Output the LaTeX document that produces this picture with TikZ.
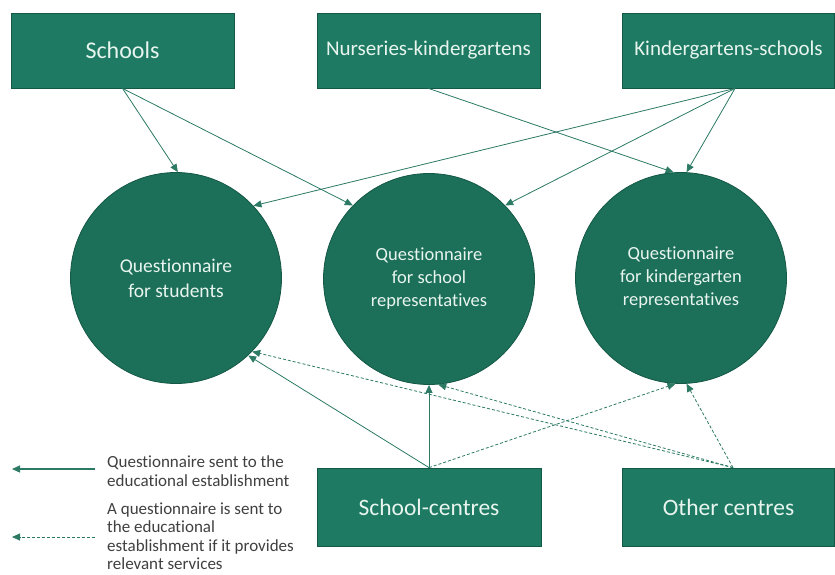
\documentclass[tikz,border=0pt]{standalone}
\usepackage{fontspec}
\setmainfont[Ligatures=CommonOff]{Carlito}
\usetikzlibrary{arrows.meta,calc}
\definecolor{boxfill}{HTML}{1E7A62}
\definecolor{boxline}{HTML}{145846}
\definecolor{circfill}{HTML}{1C6F58}
\definecolor{linecol}{HTML}{2C7A64}
\definecolor{lighttext}{HTML}{E8F5EF}
\definecolor{legtext}{HTML}{404040}
\begin{document}
\begin{tikzpicture}[x=1pt,y=-1pt,
  box/.style={rectangle,fill=boxfill,draw=boxline,line width=0.8pt,text=lighttext,inner sep=0pt,anchor=center},
  circ/.style={circle,fill=circfill,draw=boxline,line width=0.8pt,text=lighttext,inner sep=0pt,minimum size=211pt,align=center},
  conn/.style={draw=linecol,line width=0.8pt,-{Triangle[length=8pt,width=7pt]}},
  dconn/.style={conn,dash pattern=on 3pt off 2pt},
  legtxt/.style={text=legtext,align=left,anchor=west,inner sep=0pt,font=\fontsize{17}{18.5}\selectfont}
]
\useasboundingbox (0,0) rectangle (835,574);
\fill[white] (0,0) rectangle (835,574);

% top boxes
\node[box,minimum width=223pt,minimum height=75pt,font=\fontsize{24}{28}\selectfont] (schools) at (122.5,50.5) {Schools};
\node[box,minimum width=223pt,minimum height=75pt,font=\fontsize{21}{25}\selectfont] (nurs) at (428.5,50.5) {Nurseries-kindergartens};
\node[box,minimum width=212pt,minimum height=75pt,font=\fontsize{21}{25}\selectfont] (ks) at (728.5,50.5) {Kindergartens-schools};

% circles
\node[circ,font=\fontsize{19.5}{25}\selectfont] (stud) at (176,278) {Questionnaire\\for students};
\node[circ,font=\fontsize{18.5}{23}\selectfont] (srep) at (429,279) {Questionnaire\\for school\\representatives};
\node[circ,font=\fontsize{18.5}{23}\selectfont] (krep) at (681,278) {Questionnaire\\for kindergarten\\representatives};

% bottom boxes
\node[box,minimum width=224pt,minimum height=78pt,font=\fontsize{23.5}{28}\selectfont] (sc) at (429,507) {School-centres};
\node[box,minimum width=212pt,minimum height=78pt,font=\fontsize{23.5}{28}\selectfont] (oc) at (728.5,507) {Other centres};

% start points
\coordinate (ksout) at ($(ks.south)+(6.5,0)$);
\coordinate (ocout) at ($(oc.north)+(4.5,0)$);

% top connectors
\draw[conn] (schools.south) -- (stud.89);
\draw[conn] (schools.south) -- (srep.136);
\draw[conn] (nurs.south) -- (krep.94);
\draw[conn] (ksout) -- (stud.43);
\draw[conn] (ksout) -- (srep.44);
\draw[conn] (ksout) -- (krep.87);

% bottom connectors
\draw[conn] (sc.north) -- (stud.-47);
\draw[conn] (sc.north) -- (srep.south);
\draw[dconn] (sc.north) -- (krep.-93);
\draw[dconn] (ocout) -- (stud.-44);
\draw[dconn] (ocout) -- (srep.-85);
\draw[dconn] (ocout) -- (krep.-87);

% legend
\coordinate (l1a) at (95,469);
\coordinate (l1b) at (12,469);
\coordinate (l2a) at (95,537);
\coordinate (l2b) at (12,537);
\draw[conn,line width=1.2pt] (l1a) -- (l1b);
\draw[dconn] (l2a) -- (l2b);
\node[legtxt] (leg1) at (107,471) {Questionnaire sent to the\\educational establishment};
\node[legtxt] (leg2) at (107,536) {A questionnaire is sent to\\the educational\\establishment if it provides\\relevant services};
\end{tikzpicture}
\end{document}
